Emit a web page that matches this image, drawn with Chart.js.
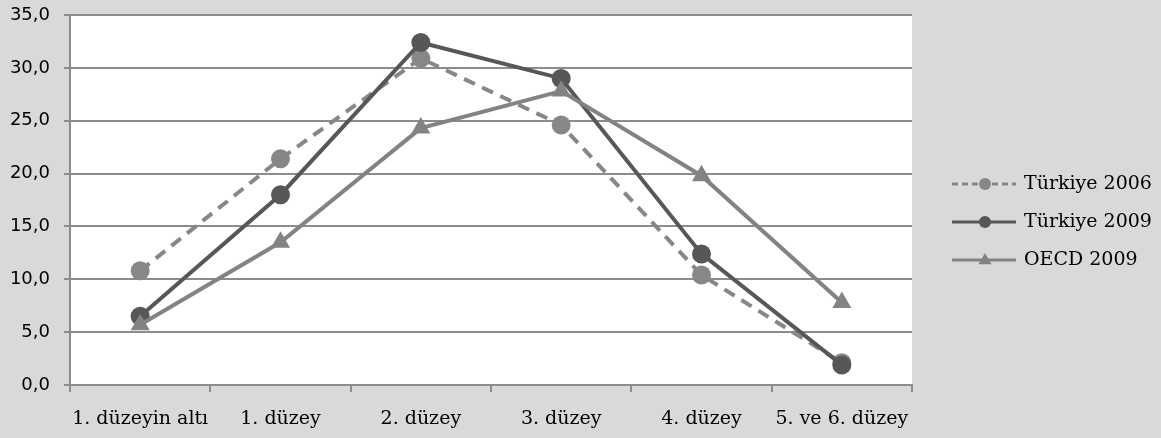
<!DOCTYPE html>
<html>
<head>
<meta charset="utf-8">
<script src="https://cdn.jsdelivr.net/npm/chart.js@4/dist/chart.umd.min.js"></script>
<style>
  html, body { margin: 0; padding: 0; background: #d9d9d9; }
  #wrap { width: 1161px; height: 438px; }
</style>
</head>
<body>
<div id="wrap"><canvas id="c" width="1161" height="438"></canvas></div>
<script>
// Reading proficiency levels (% of students)
const levels = ['1. düzeyin altı', '1. düzey', '2. düzey', '3. düzey', '4. düzey', '5. ve 6. düzey'];
const turkiye2006 = [10.8, 21.4, 30.9, 24.6, 10.4, 2.1];
const turkiye2009 = [6.5, 18.0, 32.4, 29.0, 12.4, 1.9];
const oecd2009 = [5.7, 13.5, 24.3, 27.8, 19.8, 7.8];
const seriesNames = ['Türkiye 2006', 'Türkiye 2009', 'OECD 2009'];

const LIGHT = '#878787';
const DARK = '#575757';
const MID = '#838383';
const GRID = '#8c8c8c';

const plotBackground = {
  id: 'plotBackground',
  beforeDraw(chart) {
    const { ctx, chartArea: a } = chart;
    ctx.save();
    ctx.fillStyle = '#d9d9d9';
    ctx.fillRect(0, 0, chart.width, chart.height);
    ctx.fillStyle = '#ffffff';
    ctx.fillRect(a.left, a.top, a.right - a.left, a.bottom - a.top);
    ctx.restore();
  }
};

function drawMarker(ctx, style, x, y, r, color) {
  ctx.fillStyle = color;
  ctx.beginPath();
  if (style === 'triangle') {
    ctx.moveTo(x, y - r);
    ctx.lineTo(x + r * 0.95, y + r * 0.6);
    ctx.lineTo(x - r * 0.95, y + r * 0.6);
    ctx.closePath();
  } else {
    ctx.arc(x, y, r, 0, Math.PI * 2);
  }
  ctx.fill();
}

const sideLegend = {
  id: 'sideLegend',
  afterDraw(chart) {
    const { ctx } = chart;
    const rows = [184, 222, 260];
    ctx.save();
    chart.data.datasets.forEach((ds, i) => {
      const y = rows[i];
      ctx.strokeStyle = ds.borderColor;
      ctx.lineWidth = 3;
      ctx.setLineDash(ds.borderDash && ds.borderDash.length ? [6, 4] : []);
      ctx.beginPath();
      ctx.moveTo(952, y);
      ctx.lineTo(1016, y);
      ctx.stroke();
      ctx.setLineDash([]);
      drawMarker(ctx, ds.pointStyle, 985, y, ds.pointStyle === 'triangle' ? 7 : 6, ds.pointBackgroundColor);
      ctx.fillStyle = '#000000';
      ctx.font = '19px "DejaVu Serif"';
      ctx.textBaseline = 'middle';
      ctx.textAlign = 'left';
      ctx.fillText(ds.label, 1024, y);
    });
    ctx.restore();
  }
};

new Chart(document.getElementById('c'), {
  type: 'line',
  data: {
    labels: levels,
    datasets: [
      {
        label: seriesNames[0], data: turkiye2006, order: 2,
        borderColor: LIGHT, pointBackgroundColor: LIGHT, pointBorderColor: LIGHT,
        borderWidth: 4, borderDash: [12, 8], pointStyle: 'circle', pointRadius: 9.5, pointBorderWidth: 0
      },
      {
        label: seriesNames[1], data: turkiye2009, order: 1,
        borderColor: DARK, pointBackgroundColor: DARK, pointBorderColor: DARK,
        borderWidth: 4, pointStyle: 'circle', pointRadius: 9.5, pointBorderWidth: 0
      },
      {
        label: seriesNames[2], data: oecd2009, order: 0,
        borderColor: MID, pointBackgroundColor: MID, pointBorderColor: MID,
        borderWidth: 4, pointStyle: 'triangle', pointRadius: 11, pointBorderWidth: 0
      }
    ]
  },
  options: {
    responsive: false,
    animation: false,
    devicePixelRatio: 1,
    layout: { padding: { top: 15, right: 249, left: 0, bottom: 0 } },
    plugins: {
      legend: { display: false },
      tooltip: { enabled: false }
    },
    elements: { line: { tension: 0 } },
    scales: {
      x: {
        offset: true,
        grid: { display: true, drawOnChartArea: false, drawTicks: true, tickLength: 7, color: GRID, lineWidth: 2, offset: true },
        border: { display: true, color: GRID, width: 2 },
        ticks: { color: '#000000', font: { family: '"DejaVu Serif"', size: 19 }, padding: 16, maxRotation: 0, autoSkip: false },
        afterFit(s) { s.height = 53; }
      },
      y: {
        min: 0, max: 35,
        ticks: {
          stepSize: 5, color: '#000000', padding: 14,
          font: { family: '"DejaVu Sans"', size: 18 },
          callback: v => v.toFixed(1).replace('.', ',')
        },
        grid: { color: GRID, lineWidth: 2, drawTicks: true, tickLength: 6 },
        border: { display: true, color: GRID, width: 2 },
        afterFit(s) { s.width = 70; s.paddingTop = 0; s.paddingBottom = 0; }
      }
    }
  },
  plugins: [plotBackground, sideLegend]
});
</script>
</body>
</html>
